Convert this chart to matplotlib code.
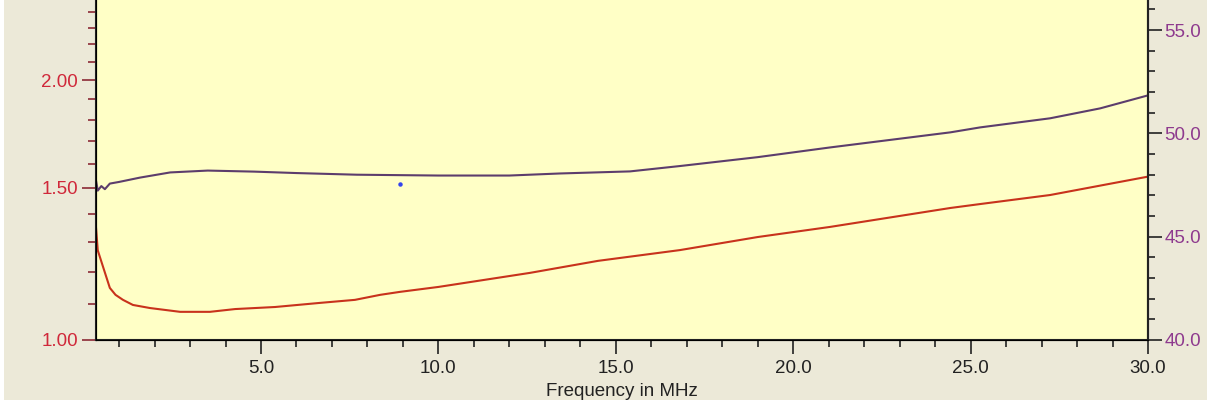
import matplotlib
matplotlib.use("Agg")
import matplotlib.pyplot as plt
from matplotlib.ticker import FixedLocator, NullFormatter, FixedFormatter
from matplotlib.patches import Rectangle

# ---- data ----
freq_swr = [0.35, 0.40, 0.55, 0.74, 0.90, 1.11, 1.39, 1.87, 2.72, 3.56, 4.27, 5.40,
            6.66, 7.65, 8.36, 8.92, 10.0, 12.58, 14.5, 16.81, 19.0, 21.04, 24.43,
            25.27, 27.24, 30.0]
swr = [1.35, 1.27, 1.215, 1.149, 1.128, 1.113, 1.098, 1.089, 1.078, 1.078, 1.086,
       1.092, 1.104, 1.113, 1.128, 1.137, 1.152, 1.196, 1.235, 1.271, 1.316, 1.352,
       1.422, 1.437, 1.472, 1.546]

freq_r = [0.35, 0.40, 0.50, 0.60, 0.74, 1.0, 1.59, 2.44, 3.5, 4.8, 6.0, 7.7, 10.0,
          12.0, 13.43, 15.4, 16.81, 19.0, 21.04, 24.43, 25.27, 27.24, 28.65, 30.0]
resist = [47.72, 47.23, 47.45, 47.30, 47.57, 47.65, 47.86, 48.11, 48.20, 48.15,
          48.08, 48.00, 47.96, 47.96, 48.06, 48.16, 48.42, 48.85, 49.32, 50.05,
          50.29, 50.73, 51.21, 51.84]

marker_freq = [8.92]
marker_r = [47.57]

x_major = [5.0, 10.0, 15.0, 20.0, 25.0, 30.0]
x_major_labels = ["5.0", "10.0", "15.0", "20.0", "25.0", "30.0"]
x_minor = [1, 2, 3, 4, 6, 7, 8, 9, 11, 12, 13, 14, 16, 17, 18, 19, 21, 22, 23, 24,
           26, 27, 28, 29]
swr_major = [1.0, 1.5, 2.0]
swr_major_labels = ["1.00", "1.50", "2.00"]
swr_minor = [1.1, 1.2, 1.3, 1.4, 1.6, 1.7, 1.8, 1.9, 2.1, 2.2, 2.3, 2.4]
r_major = [40.0, 45.0, 50.0, 55.0]
r_major_labels = ["40.0", "45.0", "50.0", "55.0"]
r_minor = [41, 42, 43, 44, 46, 47, 48, 49, 51, 52, 53, 54, 56]
x_label = "Frequency in MHz"

# ---- styling ----
W, H = 1207, 405
FIG_BG = "#ECE9D8"
PLOT_BG = "#FFFFC6"
RED_LINE = "#C8321C"
PURPLE_LINE = "#5C3D6C"
RED_TXT = "#D0283A"
PURPLE_TXT = "#8E3A8E"
FONT = "Liberation Sans"
FS = 13.5

fig = plt.figure(figsize=(W / 100, H / 100), dpi=100, facecolor=FIG_BG)

left_px, right_px, bottom_px, top_px = 96, 1148, 340, -3.6
ax = fig.add_axes([left_px / W, 1 - bottom_px / H,
                   (right_px - left_px) / W, (bottom_px - top_px) / H])
ax.set_facecolor(PLOT_BG)
ax.set_yscale("log")
ax.set_xlim(0.35, 30.0)
ax.set_ylim(1.0, 2.5)

ax.plot(freq_swr, swr, color=RED_LINE, lw=1.5, solid_joinstyle="round")

ax.yaxis.set_major_locator(FixedLocator(swr_major))
ax.yaxis.set_major_formatter(FixedFormatter(swr_major_labels))
ax.yaxis.set_minor_locator(FixedLocator(swr_minor))
ax.yaxis.set_minor_formatter(NullFormatter())
ax.tick_params(axis="y", which="major", length=10, width=1.2, color="#8B2A35",
               labelcolor=RED_TXT, labelsize=FS, pad=3)
ax.tick_params(axis="y", which="minor", length=6, width=1.2, color="#8B2A35")

ax.xaxis.set_major_locator(FixedLocator(x_major))
ax.xaxis.set_major_formatter(FixedFormatter(x_major_labels))
ax.xaxis.set_minor_locator(FixedLocator(x_minor))
ax.xaxis.set_minor_formatter(NullFormatter())
ax.tick_params(axis="x", which="major", length=10, width=1.2, color="#222222",
               labelcolor="#222222", labelsize=FS, pad=4.5)
ax.tick_params(axis="x", which="minor", length=5, width=1.2, color="#222222")
ax.set_xlabel(x_label, fontsize=FS, color="#222222", labelpad=4)

for lab in ax.get_xticklabels() + ax.get_yticklabels():
    lab.set_fontfamily(FONT)
ax.xaxis.label.set_fontfamily(FONT)

for side in ["top"]:
    ax.spines[side].set_visible(False)
for side in ["left", "bottom", "right"]:
    ax.spines[side].set_color("#222222")
    ax.spines[side].set_linewidth(1.5)

ax2 = ax.twinx()
ax2.set_ylim(40.0, 56.63)
ax2.plot(freq_r, resist, color=PURPLE_LINE, lw=1.5, solid_joinstyle="round")
ax2.plot(marker_freq, marker_r, linestyle="none", marker="o", ms=2.2,
         color="#3344EE")
ax2.yaxis.set_major_locator(FixedLocator(r_major))
ax2.yaxis.set_major_formatter(FixedFormatter(r_major_labels))
ax2.yaxis.set_minor_locator(FixedLocator(r_minor))
ax2.yaxis.set_minor_formatter(NullFormatter())
ax2.tick_params(axis="y", which="major", length=10, width=1.2, color="#222222",
                labelcolor=PURPLE_TXT, labelsize=FS, pad=2)
ax2.tick_params(axis="y", which="minor", length=5, width=1.2, color="#222222")
for lab in ax2.get_yticklabels():
    lab.set_fontfamily(FONT)
ax2.spines["top"].set_visible(False)
ax2.spines["right"].set_color("#222222")
ax2.spines["right"].set_linewidth(1.5)

# white margins of the screenshot
fig.patches.append(Rectangle((0, 0), 1, 5 / H, transform=fig.transFigure,
                             facecolor="white", edgecolor="none", zorder=10))
fig.patches.append(Rectangle((0, 0), 4 / W, 1, transform=fig.transFigure,
                             facecolor="white", edgecolor="none", zorder=10))

fig.savefig("out.png", dpi=100, facecolor=FIG_BG)
